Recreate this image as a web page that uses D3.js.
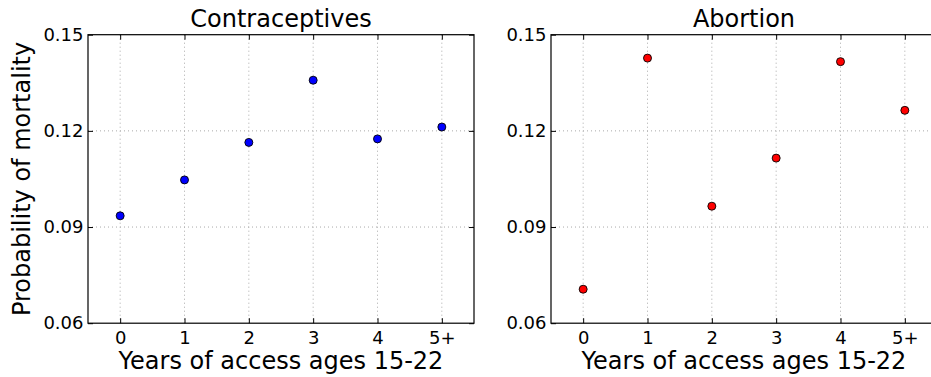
<!DOCTYPE html>
<html>
<head>
<meta charset="utf-8">
<script src="https://cdn.jsdelivr.net/npm/d3@7"></script>
<style>
  body { margin: 0; background: white; }
  text { font-family: "DejaVu Sans", sans-serif; fill: black; }
</style>
</head>
<body>
<svg id="chart" width="931" height="377"></svg>
<script>
// data
var categories = ["0", "1", "2", "3", "4", "5+"];
var contraceptives = [0.0935, 0.1047, 0.1164, 0.1358, 0.1175, 0.1212];
var abortion = [0.0706, 0.1427, 0.0965, 0.1115, 0.1416, 0.1264];
var yTicks = [0.06, 0.09, 0.12, 0.15];

var svg = d3.select("#chart");

var panelW = 386, panelH = 288.5, panelTop = 34.7;

function drawPanel(left, title, values, color, showYLabel) {
    var g = svg.append("g").attr("transform", "translate(" + left + "," + panelTop + ")");

    var x = d3.scaleLinear().domain([-0.5, 5.5]).range([0, panelW]);
    var y = d3.scaleLinear().domain([0.06, 0.15]).range([panelH, 0]);

    // grid
    g.append("g").selectAll("line")
        .data(categories.map((c, i) => i))
        .enter().append("line")
        .attr("x1", d => x(d)).attr("x2", d => x(d))
        .attr("y1", 0).attr("y2", panelH)
        .attr("stroke", "#aaa").attr("stroke-dasharray", "1,3");
    g.append("g").selectAll("line")
        .data(yTicks.slice(1, 3))
        .enter().append("line")
        .attr("x1", 0).attr("x2", panelW)
        .attr("y1", d => y(d)).attr("y2", d => y(d))
        .attr("stroke", "#aaa").attr("stroke-dasharray", "1,3");

    // axes (ticks inward, like matplotlib classic)
    var xAxis = d3.axisBottom(x).tickValues(d3.range(categories.length))
        .tickFormat(i => categories[i]).tickSizeInner(-5).tickSizeOuter(0).tickPadding(8.5);
    var xTop = d3.axisTop(x).tickValues(d3.range(categories.length))
        .tickFormat("").tickSizeInner(-5).tickSizeOuter(0);
    var yAxis = d3.axisLeft(y).tickValues(yTicks)
        .tickFormat(d3.format(".2f")).tickSizeInner(-5).tickSizeOuter(0).tickPadding(4.5);
    var yRight = d3.axisRight(y).tickValues(yTicks)
        .tickFormat("").tickSizeInner(-5).tickSizeOuter(0);

    var ax = [
        g.append("g").attr("transform", "translate(0," + panelH + ")").call(xAxis),
        g.append("g").call(xTop),
        g.append("g").call(yAxis),
        g.append("g").attr("transform", "translate(" + panelW + ",0)").call(yRight)
    ];
    ax.forEach(a => {
        a.select(".domain").remove();
        a.selectAll("line").attr("stroke", "black");
        a.selectAll("text").style("font-size", "18px").style("font-family", "DejaVu Sans");
    });

    // frame
    g.append("rect").attr("width", panelW).attr("height", panelH)
        .attr("fill", "none").attr("stroke", "black").attr("stroke-width", 1.2);

    // points
    g.append("g").selectAll("circle")
        .data(values)
        .enter().append("circle")
        .attr("cx", (d, i) => x(i))
        .attr("cy", d => y(d))
        .attr("r", 4)
        .attr("fill", color)
        .attr("stroke", "black")
        .attr("stroke-width", 0.9);

    // title
    g.append("text")
        .attr("x", panelW / 2).attr("y", -7.4)
        .attr("text-anchor", "middle")
        .style("font-size", "24px")
        .text(title);

    // x label
    g.append("text")
        .attr("x", panelW / 2).attr("y", panelH + 45.5)
        .attr("text-anchor", "middle")
        .style("font-size", "24px")
        .text("Years of access ages 15-22");

    if (showYLabel) {
        g.append("text")
            .attr("transform", "translate(-58," + panelH / 2 + ") rotate(-90)")
            .attr("text-anchor", "middle")
            .style("font-size", "24px")
            .text("Probability of mortality");
    }
}

drawPanel(88, "Contraceptives", contraceptives, "#0000ff", true);
drawPanel(551, "Abortion", abortion, "#ff0000", false);
</script>
</body>
</html>
